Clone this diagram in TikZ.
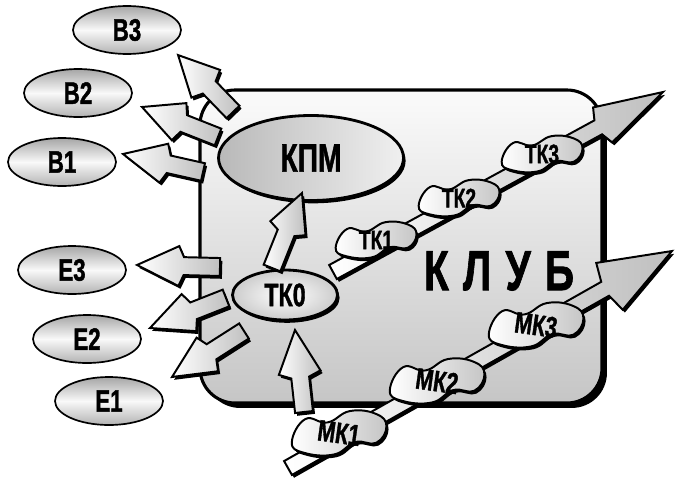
\documentclass[tikz,border=0pt]{standalone}
\usepackage{fontspec}
\setmainfont{Liberation Sans}[BoldFeatures={FakeBold=1.5}]
\usetikzlibrary{calc,shapes.geometric,shadows}

% one pixel of the sketch
\def\u{0.025cm}
\def\px{0.7087pt}

% bold narrow label: size, text
\newcommand\lbl[2]{\scalebox{0.72}[1]{\fontsize{#1}{#1}\selectfont\bfseries #2}}

\tikzset{
  blackshadow/.style={drop shadow={opacity=1, fill=black, shadow xshift=1.5pt, shadow yshift=-2pt}},
  outerell/.style={ellipse, draw, line width=1.2pt, inner sep=0pt,
    minimum width=108*\u, minimum height=48*\u,
    top color=gray!70, bottom color=gray!60, middle color=gray!5},
  innerell/.style={ellipse, draw, line width=2pt, inner sep=0pt, blackshadow},
  blobbody/.style={draw, line width=1.4pt, left color=white, right color=gray!45, blackshadow},
  blockbody/.style={draw, line width=1.4pt, line join=miter,
    left color=white, right color=gray!50, blackshadow},
}

% block arrow from #1 to #2 -- shaft half width, head half width, head length (px)
\newcommand\blockarrow[5]{%
  \path[blockbody] let \p1=($(#2)-(#1)$), \n1={atan2(\y1,\x1)}, \n2={veclen(\x1,\y1)} in
    [shift={(#1)}, rotate=\n1]
    (0pt,{#3*\px}) -- ({\n2-(#5+5)*\px},{#3*\px}) -- ({\n2-#5*\px},{#4*\px}) -- (\n2,0pt)
    -- ({\n2-#5*\px},{-#4*\px}) -- ({\n2-(#5+5)*\px},{-#3*\px}) -- (0pt,{-#3*\px}) -- cycle;
}

% lumpy blob round #1 -- half width, half height (px)
\newcommand\blob[3]{%
  \path[blobbody, shift={(#1)}, rotate=5] plot[smooth cycle, tension=0.75] coordinates {
    ({-1.0*#2*\px},{-0.25*#3*\px}) ({-0.68*#2*\px},{0.8*#3*\px}) ({-0.22*#2*\px},{0.55*#3*\px})
    ({0.27*#2*\px},{1.0*#3*\px}) ({0.81*#2*\px},{0.75*#3*\px}) ({1.0*#2*\px},{0.12*#3*\px})
    ({0.76*#2*\px},{-0.62*#3*\px}) ({0.32*#2*\px},{-0.5*#3*\px}) ({-0.14*#2*\px},{-1.0*#3*\px})
    ({-0.76*#2*\px},{-0.8*#3*\px})};
}

\begin{document}
\begin{tikzpicture}[x=\u, y=-\u]
    \useasboundingbox (0,0) rectangle (675,480);

    % --- Club box ---
    \draw[line width=2.2pt, rounded corners=0.875cm, top color=gray!3, bottom color=gray!45,
      drop shadow={opacity=1, fill=black, shadow xshift=3.5pt, shadow yshift=-3.5pt}]
      (200,90) rectangle (602,403);

    % --- Inner ellipses ---
    \node[innerell, minimum width=185*\u, minimum height=85*\u,
      left color=gray!55, right color=gray!12] (KPM) at (311,158) {\lbl{28}{КПМ}};
    \node[innerell, minimum width=105*\u, minimum height=50*\u,
      inner color=white, outer color=gray!40] (TK0) at (285,295) {\lbl{23}{ТК0}};

    % --- Arrow ends ---
    \coordinate (b3t) at (233,112); \coordinate (b3h) at (178,55);
    \coordinate (b2t) at (218,137); \coordinate (b2h) at (142,107);
    \coordinate (b1t) at (203,172); \coordinate (b1h) at (123,154);
    \coordinate (e3t) at (220,267); \coordinate (e3h) at (137,265);
    \coordinate (e2t) at (226,298); \coordinate (e2h) at (150,328);
    \coordinate (e1t) at (244,331); \coordinate (e1h) at (172,377);
    \coordinate (kpmt) at (272,268); \coordinate (kpmh) at (302,193);
    \coordinate (tk0t) at (304,412); \coordinate (tk0h) at (295,330);
    \coordinate (tkt) at (333,272); \coordinate (tkh) at (663,92);
    \coordinate (mkt) at (288,468); \coordinate (mkh) at (672,251);

    % --- Arrows out of the club ---
    \blockarrow{b3t}{b3h}{9}{20}{40}
    \blockarrow{b2t}{b2h}{9}{20}{40}
    \blockarrow{b1t}{b1h}{9}{20}{42}
    \blockarrow{e3t}{e3h}{9}{20}{42}
    \blockarrow{e2t}{e2h}{9}{20}{42}
    \blockarrow{e1t}{e1h}{9}{20}{42}
    \blockarrow{kpmt}{kpmh}{9}{19}{38}

    \node (club) at (499,271) {\lbl{40}{К\hspace{14pt}Л\hspace{14pt}У\hspace{14pt}Б}};

    % --- TK line ---
    \blockarrow{tkt}{tkh}{8}{20}{69}
    \coordinate (tk1c) at (376,240); \coordinate (tk2c) at (459,198); \coordinate (tk3c) at (542,154);
    \blob{tk1c}{41}{17} \node (TK1) at (tk1c) {\lbl{19}{ТК1}};
    \blob{tk2c}{41}{17} \node (TK2) at (tk2c) {\lbl{19}{ТК2}};
    \blob{tk3c}{41}{17} \node (TK3) at (tk3c) {\lbl{19}{ТК3}};

    % --- MK line ---
    \blockarrow{mkt}{mkh}{8}{27}{72}
    \coordinate (mk1c) at (339,433); \coordinate (mk2c) at (437,381); \coordinate (mk3c) at (536,325);
    \blob{mk1c}{48}{21} \node (MK1) at (mk1c) {\rotatebox{-8}{\lbl{21}{МК1}}};
    \blob{mk2c}{48}{21} \node (MK2) at (mk2c) {\rotatebox{-8}{\lbl{21}{МК2}}};
    \blob{mk3c}{48}{21} \node (MK3) at (mk3c) {\rotatebox{-8}{\lbl{21}{МК3}}};

    \blockarrow{tk0t}{tk0h}{9}{21}{43}

    % --- Outer ellipses ---
    \node[outerell] (B3) at (127,30) {\lbl{22}{В3}};
    \node[outerell] (B2) at (78,93) {\lbl{22}{В2}};
    \node[outerell] (B1) at (62,162) {\lbl{22}{В1}};
    \node[outerell] (E3) at (72,270) {\lbl{22}{Е3}};
    \node[outerell] (E2) at (87,339) {\lbl{22}{Е2}};
    \node[outerell] (E1) at (109,401) {\lbl{22}{Е1}};
\end{tikzpicture}
\end{document}
